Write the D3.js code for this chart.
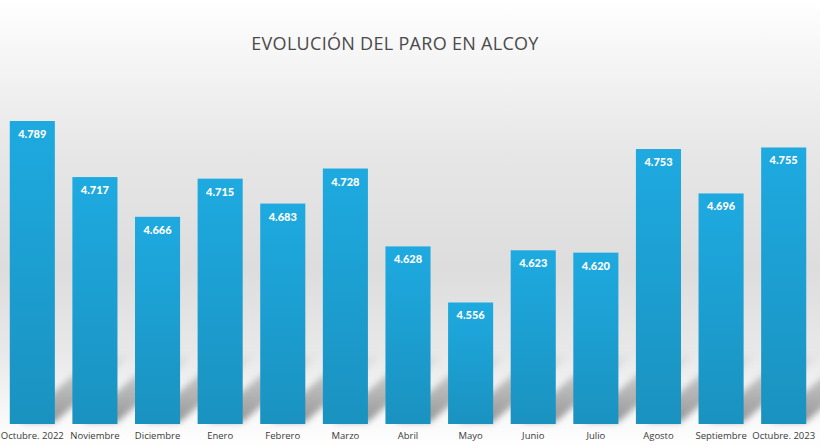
<!DOCTYPE html>
<html><head><meta charset="utf-8">
<script src="https://cdn.jsdelivr.net/npm/d3@7"></script>
<style>html,body{margin:0;padding:0;background:#fff}svg{display:block}</style>
</head><body>
<script>
const categories = ["Octubre. 2022","Noviembre","Diciembre","Enero","Febrero","Marzo","Abril","Mayo","Junio","Julio","Agosto","Septiembre","Octubre. 2023"];
const values = [4789,4717,4666,4715,4683,4728,4628,4556,4623,4620,4753,4696,4755];
const title = "EVOLUCIÓN DEL PARO EN ALCOY";

const W = 820, H = 448;
const svg = d3.select("body").append("svg").attr("width", W).attr("height", H);
const defs = svg.append("defs");

const bg = defs.append("linearGradient").attr("id","bg").attr("x1",0).attr("y1",0).attr("x2",0).attr("y2",1);
[[0,"#ffffff"],[0.12,"#f6f6f6"],[0.35,"#e6e6e6"],[0.6,"#dddddd"],[0.78,"#e8e8e8"],[0.93,"#f8f8f8"],[1,"#ffffff"]]
  .forEach(([o,c])=>bg.append("stop").attr("offset",o).attr("stop-color",c));
svg.append("rect").attr("width",W).attr("height",H).attr("fill","url(#bg)");

const bar = defs.append("linearGradient").attr("id","bar").attr("x1",0).attr("y1",0).attr("x2",0).attr("y2",1);
bar.append("stop").attr("offset",0).attr("stop-color","#1eaae0");
bar.append("stop").attr("offset",1).attr("stop-color","#1a92c0");

const sh = defs.append("linearGradient").attr("id","sh").attr("x1",0).attr("y1",1).attr("x2",0).attr("y2",0);
sh.append("stop").attr("offset",0).attr("stop-color","#8a8a8a").attr("stop-opacity",0.9);
sh.append("stop").attr("offset",0.6).attr("stop-color","#a0a0a0").attr("stop-opacity",0.6);
sh.append("stop").attr("offset",1).attr("stop-color","#b0b0b0").attr("stop-opacity",0);
defs.append("filter").attr("id","blur").attr("x","-20%").attr("y","-20%").attr("width","140%").attr("height","140%")
  .append("feGaussianBlur").attr("stdDeviation",3);

const x = d3.scaleBand().domain(categories).range([1,815]).paddingInner(0.28).paddingOuter(0.14);
const y = d3.scaleLinear().domain([4400,4789]).range([424,121]);
const base = y(4400);

// shadows
svg.append("g").attr("filter","url(#blur)").selectAll("path").data(categories).join("path")
  .attr("d", d => {
    const x0 = x(d) + 10, x1 = x(d) + x.bandwidth(), dx = 80, dy = 72;
    return `M${x0},${base-2}L${x1},${base-2}L${x1+dx},${base-dy}L${x0+dx},${base-dy}Z`;
  })
  .attr("fill","url(#sh)");

svg.append("g").selectAll("rect").data(values).join("rect")
  .attr("x",(d,i)=>x(categories[i]))
  .attr("y",d=>y(d))
  .attr("width",x.bandwidth())
  .attr("height",d=>base-y(d))
  .attr("fill","url(#bar)");

const fmt = v => d3.format(",")(v).replace(",",".");
svg.append("g").selectAll("text").data(values).join("text")
  .attr("x",(d,i)=>x(categories[i])+x.bandwidth()/2)
  .attr("y",d=>y(d)+17)
  .attr("text-anchor","middle")
  .attr("font-family","Lato, 'Open Sans', sans-serif")
  .attr("font-weight","900")
  .attr("font-size",11)
  .attr("fill","#fff")
  .text(fmt);

const xAxis = svg.append("g").attr("transform",`translate(0,${base})`)
  .call(d3.axisBottom(x).tickSize(0).tickPadding(8));
xAxis.select(".domain").remove();
xAxis.selectAll("text").attr("font-family","'Open Sans', 'DejaVu Sans', sans-serif").attr("font-size",9.5).attr("fill","#3a3a3a");

svg.append("text").attr("x",395).attr("y",50).attr("text-anchor","middle")
  .attr("font-family","'Open Sans', 'DejaVu Sans', sans-serif").attr("font-size",18).attr("fill","#4a4a4a")
  .attr("letter-spacing","0.3")
  .text(title);
</script>
</body></html>
